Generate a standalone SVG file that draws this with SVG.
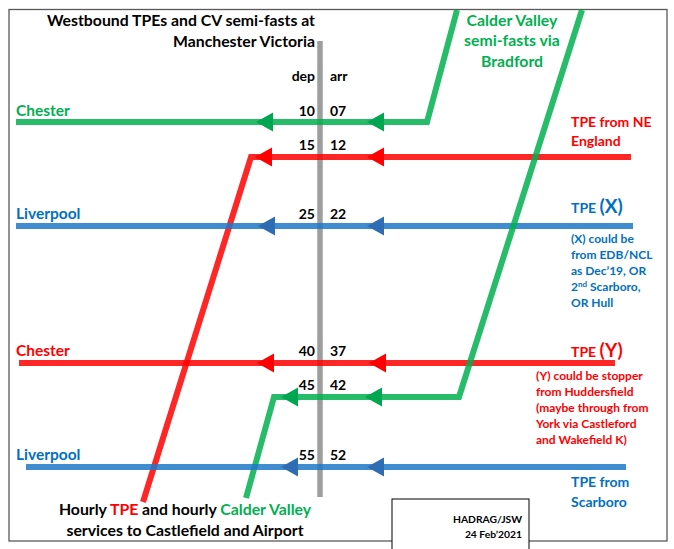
<svg xmlns="http://www.w3.org/2000/svg" xmlns:xlink="http://www.w3.org/1999/xlink" width="674" height="549" viewBox="0 0 674 549">
<style>
text{font-family:Lato,"Liberation Sans",sans-serif;font-weight:bold}
.t{font-size:15.8px;fill:#000}
.n{font-size:14px;fill:#000}
.g{fill:#00B050}.r{fill:#FF0000}.b{fill:#0070C0}
.st{font-size:15.5px}
.lbl{font-size:14px}
.note{font-size:12px}
.ln{fill:none;stroke-width:6;stroke-linejoin:miter;stroke-opacity:0.85}
</style>
<defs>
<path id="ah" d="M0,0 L17,-9.5 L17,9.5 Z"/>
</defs>
<rect width="674" height="549" fill="#fff"/>
<rect x="9" y="9.5" width="658" height="531.5" fill="none" stroke="#595959" stroke-width="1.3"/>
<g id="station-axis">
<line x1="320" y1="41" x2="320" y2="497" stroke="#8c8c8c" stroke-width="5.5" stroke-opacity="0.85"/>
</g>
<g id="connectors">
<polyline class="ln" stroke="#00B050" points="16,122 427,122 457,10"/>
<polyline class="ln" stroke="#FF0000" points="631,157 251,157 143,502"/>
<polyline class="ln" stroke="#1F78C8" points="633,226 16,226"/>
<polyline class="ln" stroke="#FF0000" points="615,363 19,363"/>
<polyline class="ln" stroke="#00B050" points="582,10 459,397 274,397 246,498"/>
<polyline class="ln" stroke="#1F78C8" points="626,467 26,467"/>
<g fill="#00A650">
<use xlink:href="#ah" x="256" y="122"/><use xlink:href="#ah" x="367" y="122"/>
<use xlink:href="#ah" x="281" y="397"/><use xlink:href="#ah" x="365" y="397"/>
</g>
<g fill="#FF0000">
<use xlink:href="#ah" x="255" y="157"/><use xlink:href="#ah" x="367" y="157"/>
<use xlink:href="#ah" x="257" y="363"/><use xlink:href="#ah" x="369" y="363"/>
</g>
<g fill="#2E6DB4">
<use xlink:href="#ah" x="258" y="226"/><use xlink:href="#ah" x="367" y="226"/>
<use xlink:href="#ah" x="281" y="467"/><use xlink:href="#ah" x="367" y="467"/>
</g>
</g>
<g id="title">
<text class="t" x="315" y="26" text-anchor="end">Westbound TPEs and CV semi-fasts at</text>
<text class="t" x="315" y="47" text-anchor="end">Manchester Victoria</text>
</g>
<g id="headers">
<text class="n" x="315" y="81" text-anchor="end">dep</text>
<text class="n" x="330" y="81">arr</text>
</g>
<g id="times">
<text class="n" x="315" y="116" text-anchor="end">10</text><text class="n" x="330" y="116">07</text>
<text class="n" x="315" y="150" text-anchor="end">15</text><text class="n" x="330" y="150">12</text>
<text class="n" x="315" y="219" text-anchor="end">25</text><text class="n" x="330" y="219">22</text>
<text class="n" x="315" y="356" text-anchor="end">40</text><text class="n" x="330" y="356">37</text>
<text class="n" x="315" y="390" text-anchor="end">45</text><text class="n" x="330" y="390">42</text>
<text class="n" x="315" y="460" text-anchor="end">55</text><text class="n" x="330" y="460">52</text>
</g>
<g id="chester-green"><text class="st g" x="16" y="116">Chester</text></g>
<g id="liverpool-1"><text class="st b" x="16" y="219">Liverpool</text></g>
<g id="chester-red"><text class="st r" x="16" y="356">Chester</text></g>
<g id="liverpool-2"><text class="st b" x="16" y="460">Liverpool</text></g>
<g id="calder-valley">
<text class="t g" x="512" y="26" text-anchor="middle">Calder Valley</text>
<text class="t g" x="512" y="46" text-anchor="middle">semi-fasts via</text>
<text class="t g" x="512" y="67" text-anchor="middle">Bradford</text>
</g>
<g id="tpe-ne">
<text class="lbl r" x="571" y="127">TPE from NE</text>
<text class="lbl r" x="571" y="146">England</text>
</g>
<g id="tpe-x">
<text class="lbl b" x="571" y="213">TPE <tspan style="font-size:19px">(X)</tspan></text>
<text class="note b" x="571" y="243">(X) could be</text>
<text class="note b" x="571" y="259">from EDB/NCL</text>
<text class="note b" x="571" y="275">as Dec’19, OR</text>
<text class="note b" x="571" y="291">2<tspan style="font-size:8px" dy="-4">nd</tspan><tspan dy="4"> Scarboro,</tspan></text>
<text class="note b" x="571" y="307">OR Hull</text>
</g>
<g id="tpe-y">
<text class="lbl r" x="571" y="357">TPE <tspan style="font-size:19px">(Y)</tspan></text>
<text class="note r" x="536" y="380">(Y) could be stopper</text>
<text class="note r" x="536" y="396">from Huddersfield</text>
<text class="note r" x="536" y="412">(maybe through from</text>
<text class="note r" x="536" y="428">York via Castleford</text>
<text class="note r" x="536" y="444">and Wakefield K)</text>
</g>
<g id="tpe-scarboro">
<text class="lbl b" x="571" y="487">TPE from</text>
<text class="lbl b" x="571" y="507">Scarboro</text>
</g>
<g id="services">
<text class="t" x="185" y="515" text-anchor="middle">Hourly <tspan class="r">TPE</tspan> and hourly <tspan class="g">Calder Valley</tspan></text>
<text class="t" x="185" y="536" text-anchor="middle">services to Castlefield and Airport</text>
</g>
<g id="credit">
<rect x="392" y="499" width="137" height="55" fill="#fff" stroke="#000" stroke-width="1"/>
<text style="font-size:10.3px" x="522" y="523" text-anchor="end">HADRAG/JSW</text>
<text style="font-size:10.3px" x="522" y="538" text-anchor="end">24 Feb’2021</text>
</g>
</svg>
